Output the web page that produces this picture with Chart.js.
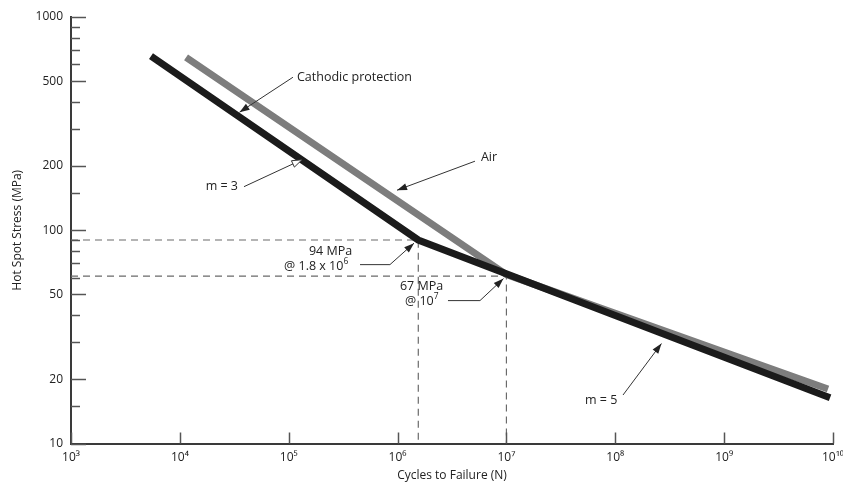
<!DOCTYPE html>
<html><head><meta charset="utf-8">
<script src="https://cdn.jsdelivr.net/npm/chart.js@4.4.1/dist/chart.umd.min.js"></script>
<style>html,body{margin:0;padding:0;background:#fff;}</style>
</head><body>
<canvas id="c" width="843" height="482"></canvas>
<script>
// ---- data ----
const yMajorTicks = [10, 20, 50, 100, 200, 500, 1000];
const yMinorTicks = [15, 30, 40, 60, 70, 80, 90, 150, 300, 400, 600, 700, 800, 900];
const xTicks = [1e3, 1e4, 1e5, 1e6, 1e7, 1e8, 1e9, 1e10];
const xTickLabels = ['10³', '10⁴', '10⁵', '10⁶', '10⁷', '10⁸', '10⁹', '10¹⁰'];
const cpCycles = [5.43e3, 1.55e6, 9.4e9];
const cpStress = [655, 90, 16.4];
const airCycles = [1.14e4, 1.0e7, 9.0e9];
const airStress = [647, 62, 18.0];
const kneeRefCycles = [1e3, 1.55e6, 1.55e6];
const kneeRefStress = [90, 90, 10];
const crossRefCycles = [1e3, 1.0e7, 1.0e7];
const crossRefStress = [61, 61, 10];
// annotation anchors in log10 data units [log N, log S]
const labelTexts = [
  {parts: [['Cathodic protection']], at: [5.076, 2.7175], align: 'left'},
  {parts: [['m = 3']], at: [4.534, 2.2043], align: 'right'},
  {parts: [['Air']], at: [6.766, 2.3426], align: 'left'},
  {parts: [['94 MPa']], at: [5.186, 1.8997], align: 'left'},
  {parts: [['@ 1.8 x 10'], ['6', true]], at: [4.957, 1.8294], align: 'left'},
  {parts: [['67 MPa']], at: [6.022, 1.7357], align: 'left'},
  {parts: [['@ 10'], ['7', true]], at: [6.068, 1.6654], align: 'left'},
  {parts: [['m = 5']], at: [7.722, 1.2038], align: 'left'}
];
const leaders = [
  {pts: [[5.039, 2.7175], [4.548, 2.5534]], hollow: false},
  {pts: [[4.589, 2.2043], [5.122, 2.3308]], hollow: true},
  {pts: [[6.711, 2.3238], [5.995, 2.1879]], hollow: false},
  {pts: [[5.655, 1.8388], [5.930, 1.8388], [6.151, 1.9395]], hollow: false},
  {pts: [[6.463, 1.6701], [6.757, 1.6701], [6.973, 1.7732]], hollow: false},
  {pts: [[8.071, 1.2273], [8.424, 1.4686]], hollow: false}
];

const FONT = "'Open Sans', 'DejaVu Sans', sans-serif";
const TXT = '#222';
const toXY = (xs, ys) => xs.map((v, i) => ({x: v, y: ys[i]}));

const overlay = {
  id: 'overlay',
  afterDatasetsDraw(chart) {
    const {ctx, chartArea, scales: {x, y}} = chart;
    const px = e => x.getPixelForValue(Math.pow(10, e));
    const py = e => y.getPixelForValue(Math.pow(10, e));
    ctx.save();
    // inward tick marks
    ctx.strokeStyle = '#555';
    ctx.lineWidth = 1.5;
    const seg = (x1, y1, x2, y2) => { ctx.beginPath(); ctx.moveTo(x1, y1); ctx.lineTo(x2, y2); ctx.stroke(); };
    yMajorTicks.forEach(v => { const p = Math.round(y.getPixelForValue(v)) + 0.5; seg(chartArea.left, p, chartArea.left + 15, p); });
    yMinorTicks.forEach(v => { const p = Math.round(y.getPixelForValue(v)) + 0.5; seg(chartArea.left, p, chartArea.left + 9, p); });
    xTicks.forEach(v => { const p = Math.round(x.getPixelForValue(v)) + 0.5; seg(p, chartArea.bottom, p, chartArea.bottom - 11); });
    // leaders with arrowheads
    ctx.strokeStyle = '#333';
    ctx.lineWidth = 1;
    leaders.forEach(l => {
      const pts = l.pts.map(p => [px(p[0]), py(p[1])]);
      ctx.beginPath();
      ctx.moveTo(pts[0][0], pts[0][1]);
      for (let i = 1; i < pts.length; i++) ctx.lineTo(pts[i][0], pts[i][1]);
      ctx.stroke();
      const a = pts[pts.length - 2], b = pts[pts.length - 1];
      const ang = Math.atan2(b[1] - a[1], b[0] - a[0]);
      const L = 10, W = 3.5;
      const bx = b[0] - L * Math.cos(ang), by = b[1] - L * Math.sin(ang);
      ctx.beginPath();
      ctx.moveTo(b[0], b[1]);
      ctx.lineTo(bx + W * Math.sin(ang), by - W * Math.cos(ang));
      ctx.lineTo(bx - W * Math.sin(ang), by + W * Math.cos(ang));
      ctx.closePath();
      if (l.hollow) { ctx.fillStyle = '#fff'; ctx.fill(); ctx.stroke(); }
      else { ctx.fillStyle = '#222'; ctx.fill(); }
    });
    // texts
    ctx.fillStyle = TXT;
    ctx.textBaseline = 'middle';
    labelTexts.forEach(t => {
      const base = '12.5px ' + FONT, sup = '8.5px ' + FONT;
      let w = 0;
      t.parts.forEach(p => { ctx.font = p[1] ? sup : base; w += ctx.measureText(p[0]).width; });
      let cx = px(t.at[0]);
      const cy = py(t.at[1]);
      if (t.align === 'right') cx -= w;
      ctx.textAlign = 'left';
      t.parts.forEach(p => {
        ctx.font = p[1] ? sup : base;
        ctx.fillText(p[0], cx, p[1] ? cy - 5 : cy);
        cx += ctx.measureText(p[0]).width;
      });
    });
    ctx.restore();
  }
};

const dash = {borderColor: '#6a6a6a', borderWidth: 1.2, borderDash: [7, 5], pointRadius: 0, fill: false, order: 3};

new Chart(document.getElementById('c'), {
  type: 'line',
  data: {
    datasets: [
      {label: 'Cathodic protection', data: toXY(cpCycles, cpStress), borderColor: '#1b1b1b', borderWidth: 7,
        pointRadius: 0, borderCapStyle: 'butt', borderJoinStyle: 'miter', order: 0},
      {label: 'Air', data: toXY(airCycles, airStress), borderColor: '#7d7d7d', borderWidth: 7,
        pointRadius: 0, borderCapStyle: 'butt', borderJoinStyle: 'miter', order: 1},
      Object.assign({label: '94 MPa ref', data: toXY(kneeRefCycles, kneeRefStress)}, dash),
      Object.assign({label: '67 MPa ref', data: toXY(crossRefCycles, crossRefStress)}, dash)
    ]
  },
  options: {
    responsive: false,
    animation: false,
    devicePixelRatio: 1,
    layout: {padding: {top: 17, right: 10, bottom: 0, left: 0}},
    plugins: {legend: {display: false}, tooltip: {enabled: false}},
    scales: {
      x: {
        type: 'logarithmic', min: 1e3, max: 1e10,
        afterBuildTicks: s => { s.ticks = xTicks.map(v => ({value: v})); },
        afterFit: s => { s.height = 38.5; s.paddingLeft = 0; s.paddingRight = 0; },
        grid: {display: true, drawOnChartArea: false, drawTicks: false},
        border: {display: true, color: '#3a3a3a', width: 2},
        ticks: {callback: (v, i) => xTickLabels[i], autoSkip: false, maxRotation: 0, padding: 7,
          color: TXT, font: {family: FONT, size: 12}},
        title: {display: true, text: 'Cycles to Failure (N)', color: TXT,
          font: {family: FONT, size: 12, lineHeight: 1}, padding: {top: 0, bottom: 0}}
      },
      y: {
        type: 'logarithmic', min: 10, max: 1000,
        afterBuildTicks: s => { s.ticks = yMajorTicks.map(v => ({value: v})); },
        afterFit: s => { s.width = 71; },
        grid: {display: true, drawOnChartArea: false, drawTicks: false},
        border: {display: true, color: '#3a3a3a', width: 2},
        ticks: {callback: v => String(v), autoSkip: false, padding: 8,
          color: TXT, font: {family: FONT, size: 12}},
        title: {display: true, text: 'Hot Spot Stress (MPa)', color: TXT,
          font: {family: FONT, size: 12, lineHeight: 1.2}, padding: {top: 10, bottom: 0}}
      }
    }
  },
  plugins: [overlay]
});
</script>
</body></html>
